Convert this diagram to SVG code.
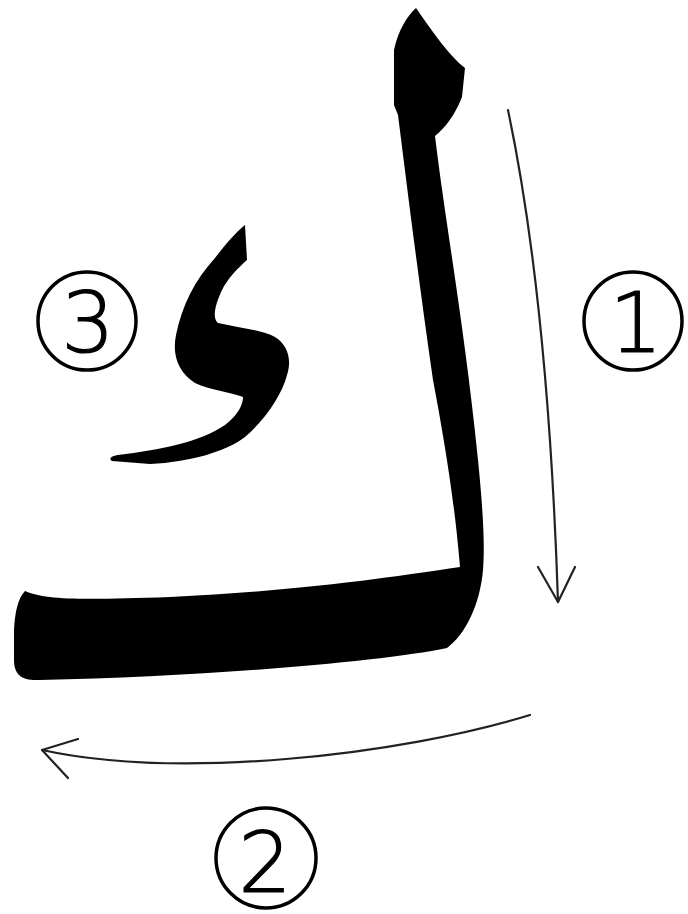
<svg xmlns="http://www.w3.org/2000/svg" width="688" height="914" viewBox="0 0 688 914">
<style>
.ink{fill:#000}
.ring{fill:none;stroke:#000;stroke-width:3.5}
.num{font-family:"DejaVu Sans","Liberation Sans",sans-serif;font-weight:200;font-size:84px;fill:#000;stroke:#000;stroke-width:1.2;text-anchor:middle}
.arr{fill:none;stroke:#222;stroke-width:2.2;stroke-linecap:round;stroke-linejoin:round}
</style>
<rect width="688" height="914" fill="#fff"/>
<g id="kaf-body">
<path class="ink" d="M416,8 C428,25 448,55 465,68 L462,97 C455,115 445,128 435,136 C445,220 465,330 478,460 C483,510 485,545 483,570 C480,605 465,635 447,648 C380,662 200,677 40,680 C22,681 14,675 14,660 L14,630 C15,612 18,598 25,591 C45,600 80,600 170,597 C300,591 400,576 460,567 C456,520 450,470 433,380 C420,290 410,210 398,115 L394,105 L394,50 C398,30 408,15 416,8 Z"/>
</g>
<g id="kaf-mark">
<path class="ink" d="M245,225 L247,260 C238,268 228,278 222,290 C215,305 212,318 218,323 C240,328 262,330 275,337 C288,345 292,360 287,375 C282,395 265,420 245,437 C225,452 190,462 150,464 L112,461 C108,458 112,456 118,455 C160,450 200,442 225,425 C238,415 243,405 243,397 C230,392 210,390 195,383 C178,372 172,355 176,335 C182,305 195,280 215,258 C225,245 235,233 245,225 Z"/>
</g>
<g id="connectors">
<path class="arr" d="M508,110 Q548,300 558,602"/>
<path class="arr" d="M538,567 L558,602 L575,567"/>
<path class="arr" d="M530,715 C400,755 180,780 42,750"/>
<path class="arr" d="M78,739 L42,750 L68,778"/>
</g>
<g id="step1">
<circle class="ring" cx="633" cy="321" r="49"/>
<text class="num" x="636" y="352">1</text>
</g>
<g id="step2">
<circle class="ring" cx="266" cy="858" r="50"/>
<text class="num" x="265" y="892">2</text>
</g>
<g id="step3">
<circle class="ring" cx="87" cy="321" r="49"/>
<text class="num" x="88" y="352">3</text>
</g>
</svg>
